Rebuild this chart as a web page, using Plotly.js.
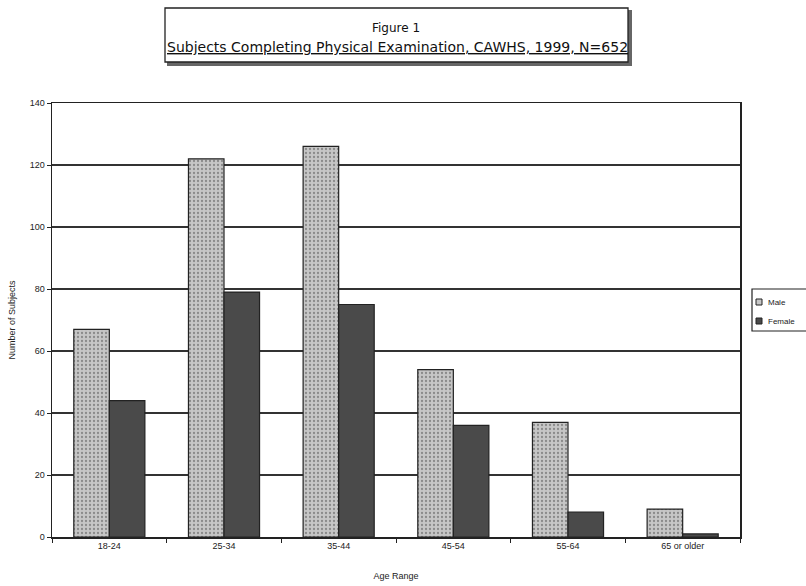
<!DOCTYPE html>
<html>
<head>
<meta charset="utf-8">
<script src="https://cdn.plot.ly/plotly-3.0.1.min.js"></script>
<style>html,body{margin:0;padding:0;background:#fff;}#chart{width:806px;height:586px;}</style>
</head>
<body>
<div id="chart"></div>
<script>
const categories = ["18-24", "25-34", "35-44", "45-54", "55-64", "65 or older"];
const maleValues = [67, 122, 126, 54, 37, 9];
const femaleValues = [44, 79, 75, 36, 8, 1];
const seriesNames = ["Male", "Female"];
const yTicks = [0, 20, 40, 60, 80, 100, 120, 140];
const titleLine1 = "Figure 1";
const titleLine2 = "Subjects Completing Physical Examination, CAWHS, 1999, N=652";

const FONT = "Liberation Sans, Arial, sans-serif";
const MALE_FILL = "#c6c6c6";
const FEMALE_FILL = "#4a4a4a";

const traces = [
  {
    type: "bar", name: seriesNames[0], x: categories, y: maleValues, showlegend: false,
    marker: {color: MALE_FILL, line: {color: "#222", width: 1.2},
      pattern: {shape: ".", bgcolor: MALE_FILL, fgcolor: "#8a8a8a", size: 4, solidity: 0.25}}
  },
  {
    type: "bar", name: seriesNames[1], x: categories, y: femaleValues, showlegend: false,
    marker: {color: FEMALE_FILL, line: {color: "#222", width: 1.2}}
  }
];

// paper coordinate helpers (plot area: x 52..740, y 103..537)
const px = v => (v - 52) / 688;
const py = v => (537 - v) / 434;

const legendShapes = [
  {type: "rect", xref: "paper", yref: "paper", x0: px(752), x1: px(812), y0: py(331), y1: py(289),
    line: {color: "#222", width: 1.2}, fillcolor: "#fff"},
  {type: "rect", xref: "paper", yref: "paper", x0: px(756), x1: px(762), y0: py(305), y1: py(299),
    line: {color: "#222", width: 1}, fillcolor: MALE_FILL},
  {type: "rect", xref: "paper", yref: "paper", x0: px(756), x1: px(762), y0: py(324), y1: py(318),
    line: {color: "#222", width: 1}, fillcolor: FEMALE_FILL}
];
const legendTexts = [
  {xref: "paper", yref: "paper", x: px(766), y: py(302), xanchor: "left", yanchor: "middle",
    text: seriesNames[0], showarrow: false, font: {size: 8, family: FONT, color: "#222"}},
  {xref: "paper", yref: "paper", x: px(766), y: py(321), xanchor: "left", yanchor: "middle",
    text: seriesNames[1], showarrow: false, font: {size: 8, family: FONT, color: "#222"}}
];

const layout = {
  width: 806, height: 586,
  margin: {l: 52, r: 66, t: 103, b: 49, autoexpand: false},
  paper_bgcolor: "#ffffff", plot_bgcolor: "#ffffff",
  font: {family: FONT, color: "#222", size: 9},
  barmode: "group", bargap: 0.38, bargroupgap: 0,
  showlegend: false,
  xaxis: {
    type: "category", showline: true, linecolor: "#222", linewidth: 1.5,
    mirror: true, ticks: "outside", tickson: "boundaries", ticklen: 4, tickcolor: "#222",
    tickfont: {size: 9}, showgrid: false,
    title: {text: "Age Range", font: {size: 9}, standoff: 22}
  },
  yaxis: {
    range: [0, 140], tickvals: yTicks, showline: true, linecolor: "#222", linewidth: 1.5,
    mirror: true, ticks: "outside", ticklen: 4, tickcolor: "#222",
    showgrid: true, gridcolor: "#333", gridwidth: 1.3, zeroline: false,
    tickfont: {size: 9},
    title: {text: "Number of Subjects", font: {size: 9}, standoff: 12}
  },
  shapes: [
    {type: "rect", xref: "paper", yref: "paper",
      x0: px(168), x1: px(631), y0: py(65), y1: py(11),
      line: {color: "#666", width: 2}, fillcolor: "#666", layer: "below"},
    {type: "rect", xref: "paper", yref: "paper",
      x0: px(165), x1: px(628), y0: py(62), y1: py(8),
      line: {color: "#222", width: 1.3}, fillcolor: "#ffffff", layer: "below"}
  ].concat(legendShapes),
  annotations: [
    {xref: "paper", yref: "paper", x: px(396), y: py(28), yanchor: "middle",
      text: titleLine1, showarrow: false, font: {size: 12, family: "DejaVu Sans, sans-serif", color: "#111"}},
    {xref: "paper", yref: "paper", x: px(397), y: py(47), yanchor: "middle",
      text: "<u>" + titleLine2 + "</u>", showarrow: false, font: {size: 14, family: "DejaVu Sans, sans-serif", color: "#111"}}
  ].concat(legendTexts)
};

Plotly.newPlot("chart", traces, layout, {displayModeBar: false, staticPlot: true});
</script>
</body>
</html>
